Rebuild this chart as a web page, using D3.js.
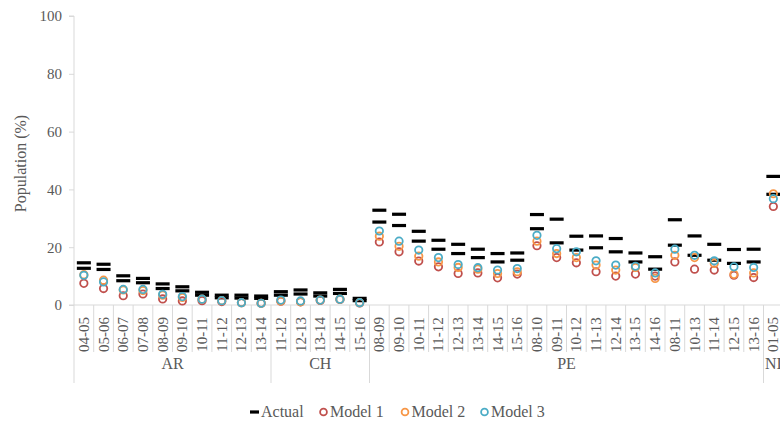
<!DOCTYPE html>
<html>
<head>
<meta charset="utf-8">
<script src="https://cdn.jsdelivr.net/npm/d3@7"></script>
</head>
<body style="margin:0">
<svg id="chart" width="780" height="424"></svg>
<script>
// Region of each period and the period labels
const regions = ["AR","AR","AR","AR","AR","AR","AR","AR","AR","AR",
  "CH","CH","CH","CH","CH",
  "PE","PE","PE","PE","PE","PE","PE","PE","PE","PE","PE","PE","PE","PE","PE","PE","PE","PE","PE","PE",
  "NI"];
const periods = ["04-05","05-06","06-07","07-08","08-09","09-10","10-11","11-12","12-13","13-14",
  "11-12","12-13","13-14","14-15","15-16",
  "08-09","09-10","10-11","11-12","12-13","13-14","14-15","15-16","08-10","09-11","10-12","11-13","12-14","13-15","14-16","08-11","10-13","11-14","12-15","13-16",
  "01-05"];

// Actual population share (two reported values per period)
const actualHigh = [14.6,14.1,10.1,9.2,7.3,6.3,4.4,3.4,3.4,3.1,
  4.6,5.2,4.2,5.4,2.3,
  32.8,31.4,25.5,22.4,21.0,19.3,17.8,18.0,31.3,29.7,23.8,23.9,23.0,18.0,16.7,29.5,23.9,21.0,19.2,19.3,
  44.5];
const actualLow = [12.7,12.3,8.4,7.7,5.7,4.9,3.4,2.5,2.4,2.3,
  3.4,3.8,3.1,4.0,1.5,
  28.7,27.5,22.1,19.3,17.8,16.4,14.9,15.5,26.4,21.5,19.0,19.8,18.4,14.9,12.4,20.7,17.2,15.5,14.4,14.9,
  38.3];

// Model estimates
const model1 = [7.5,5.7,3.2,3.8,2.1,1.4,1.5,1.2,0.8,0.6,
  1.3,1.1,1.6,1.9,0.7,
  21.8,18.4,15.2,13.2,10.9,11.1,9.4,10.7,20.5,16.4,14.6,11.5,10.0,10.7,10.0,14.9,12.4,12.1,10.3,9.5,
  34.1];
const model2 = [10.5,8.6,5.2,5.0,3.4,2.6,2.0,1.5,0.8,0.6,
  1.4,1.1,1.7,2.0,0.8,
  23.8,20.3,16.9,14.9,13.0,12.4,10.9,11.5,22.1,17.8,16.4,13.8,12.1,13.0,9.2,17.2,16.4,14.4,10.6,11.1,
  38.5];
const model3 = [10.3,8.0,5.4,5.4,3.7,2.9,2.0,1.5,0.8,0.6,
  1.7,1.4,1.7,2.0,0.8,
  25.6,22.1,19.0,16.4,14.0,12.9,12.1,12.6,24.1,19.5,18.4,15.3,13.8,13.4,11.1,19.3,17.2,15.3,13.2,13.0,
  36.8];

const yTicks = [0, 20, 40, 60, 80, 100];

const series = [
  { name: "Model 1", values: model1, color: "#c0504d" },
  { name: "Model 2", values: model2, color: "#f79646" },
  { name: "Model 3", values: model3, color: "#4bacc6" }
];

const svg = d3.select("#chart");
const axisColor = "#d9d9d9";
const textColor = "#595959";
const serif = "'Liberation Serif'";

// Helper for every text element: serif face, grey ink, given size
function styleText(sel, size) {
  return sel.style("font-family", serif).attr("font-size", size).attr("fill", textColor);
}

const plotLeft = 74, plotTop = 16, plotBottom = 305, bandW = 19.7;
const idx = d3.range(periods.length);
const x = d3.scaleBand().domain(idx).range([plotLeft, plotLeft + bandW * periods.length]).padding(0);
const y = d3.scaleLinear().domain([0, 100]).range([plotBottom, plotTop]);

// Y axis
const yAxis = svg.append("g")
  .attr("transform", `translate(${plotLeft},0)`)
  .call(d3.axisLeft(y).tickValues(yTicks).tickSize(5).tickPadding(7));
yAxis.attr("font-family", null).attr("font-size", null);
yAxis.select(".domain").attr("stroke", axisColor).attr("d", `M-5,${plotTop}H0V${plotBottom}`);
yAxis.selectAll(".tick line").attr("stroke", axisColor);
styleText(yAxis.selectAll(".tick text"), 15).attr("dy", "0.33em");

styleText(svg.append("text"), 16)
  .attr("transform", `translate(26,${(plotTop + plotBottom) / 2 + 3}) rotate(-90)`)
  .attr("text-anchor", "middle")
  .text("Population (%)");

// X axis line
svg.append("line")
  .attr("x1", plotLeft - 5).attr("x2", 780)
  .attr("y1", plotBottom).attr("y2", plotBottom)
  .attr("stroke", axisColor);

// Separators between periods; longer ones between regions
svg.append("g").selectAll("line")
  .data(idx.slice(1))
  .join("line")
  .attr("x1", d => x(d)).attr("x2", d => x(d))
  .attr("y1", plotBottom).attr("y2", d => regions[d] !== regions[d - 1] ? 383 : 352)
  .attr("stroke", axisColor);
svg.append("line")
  .attr("x1", plotLeft).attr("x2", plotLeft).attr("y1", plotBottom).attr("y2", 383)
  .attr("stroke", axisColor);

// Period labels
styleText(svg.append("g").selectAll("text")
  .data(idx)
  .join("text"), 15)
  .attr("transform", d => `translate(${x(d) + x.bandwidth() / 2 + 5},334.5) rotate(-90)`)
  .attr("text-anchor", "middle")
  .text(d => periods[d]);

// Region labels (the last one runs past the right edge)
const regionGroups = d3.groups(idx, d => regions[d]);
styleText(svg.append("g").selectAll("text")
  .data(regionGroups)
  .join("text"), 16)
  .attr("x", ([, ids]) => (x(ids[0]) + x(ids[ids.length - 1]) + x.bandwidth()) / 2)
  .attr("y", 369)
  .attr("text-anchor", "middle")
  .text(([name]) => name);

// Actual values drawn as short dashes
const dashW = 14, dashH = 3.2;
const actualG = svg.append("g");
[actualHigh, actualLow].forEach(vals => {
  actualG.append("g").selectAll("rect")
    .data(idx)
    .join("rect")
    .attr("x", d => x(d) + x.bandwidth() / 2 - dashW / 2)
    .attr("y", d => y(vals[d]) - dashH / 2)
    .attr("width", dashW)
    .attr("height", dashH)
    .attr("fill", "#000");
});

// Model estimates drawn as hollow circles
series.forEach(s => {
  svg.append("g").selectAll("circle")
    .data(idx)
    .join("circle")
    .attr("cx", d => x(d) + x.bandwidth() / 2)
    .attr("cy", d => y(s.values[d]))
    .attr("r", 3.7)
    .attr("fill", "none")
    .attr("stroke", s.color)
    .attr("stroke-width", 1.8);
});

// Legend
const legY = 412;
const leg = svg.append("g");
leg.append("rect").attr("x", 250).attr("y", legY - 1.6).attr("width", 9).attr("height", 3.2).attr("fill", "#000");
styleText(leg.append("text"), 16).attr("x", 261).attr("y", legY + 5).text("Actual");
const legX = [323.5, 405, 484.5];
series.forEach((s, i) => {
  leg.append("circle").attr("cx", legX[i]).attr("cy", legY).attr("r", 3.4)
    .attr("fill", "none").attr("stroke", s.color).attr("stroke-width", 1.8);
  styleText(leg.append("text"), 16).attr("x", legX[i] + 6.5).attr("y", legY + 5).text(s.name);
});
</script>
</body>
</html>
